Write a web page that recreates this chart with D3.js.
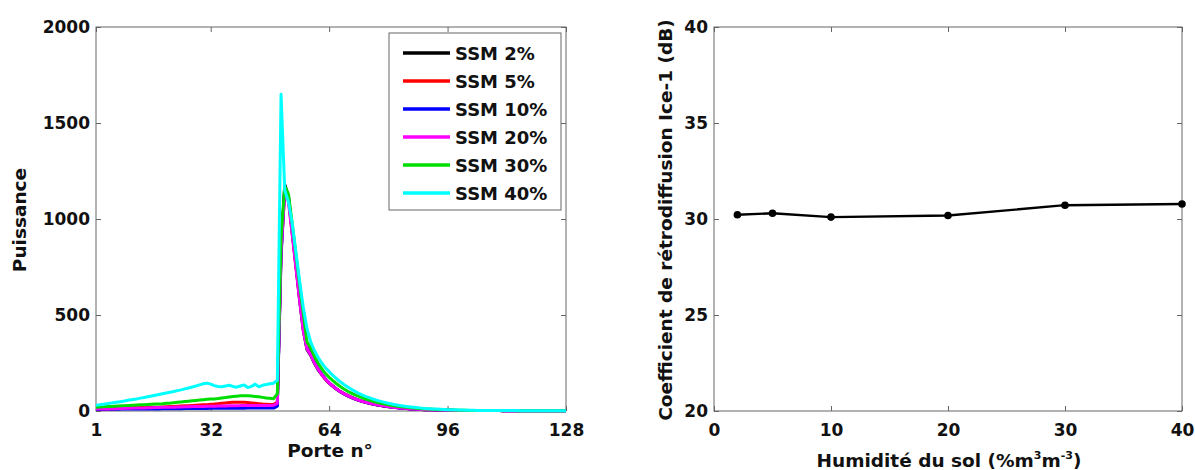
<!DOCTYPE html>
<html><head><meta charset="utf-8">
<script src="https://cdn.jsdelivr.net/npm/d3@7"></script>
<style>
body{margin:0;background:#fff;}
text{font-family:"DejaVu Sans",sans-serif;font-weight:bold;fill:#111;}
</style></head>
<body><svg id="c" width="1195" height="470"></svg>
<script>
// ---------- DATA ----------
const gates = d3.range(1, 129);
const seriesNames = ["SSM 2%","SSM 5%","SSM 10%","SSM 20%","SSM 30%","SSM 40%"];
const seriesColors = ["#000000","#ff0000","#0000ff","#ff00ff","#00dd00","#00ffff"];
const ssm2 = [10,11,11,12,12,12,13,13,13,14,14,14,15,15,15,15,
16,16,16,17,17,17,18,18,18,18,19,19,19,20,20,20,
20,21,21,21,22,22,22,22,22,22,22,21,21,21,21,21,
22,30,850,1180,1120,940,760,580,420,320,290,250,215,190,165,145,
128,113,100,89,79,70,62,55,49,44,39,35,31,28,25,22,
20,18,16,14,13,11,10,9,8,7,6,6,5,5,4,4,
4,3,3,3,3,2,2,2,2,2,2,2,2,2,1,1,
1,1,1,1,1,1,1,1,1,1,1,1,1,1,1,1];
const ssm5 = [12,12,13,13,14,14,15,15,16,16,17,17,18,18,19,19,
20,20,21,22,23,24,25,26,27,28,29,30,31,32,33,35,
36,38,40,42,44,45,46,46,45,44,42,40,38,36,35,34,
35,45,820,1150,1100,930,760,590,430,335,300,255,220,190,165,145,
130,115,102,91,81,72,64,57,51,46,41,36,32,29,26,23,
21,19,17,15,13,12,10,9,8,7,7,6,5,5,4,4,
4,3,3,3,3,2,2,2,2,2,2,2,2,2,1,1,
1,1,1,1,1,1,1,1,1,1,1,1,1,1,1,1];
const ssm10 = [8,8,8,9,9,9,9,10,10,10,10,10,11,11,11,11,
11,11,12,12,12,12,12,12,13,13,13,13,13,13,13,14,
14,14,14,14,14,14,14,14,14,15,15,15,15,15,15,15,
15,25,800,1160,1110,940,770,600,440,330,295,255,220,192,167,147,
130,115,101,90,80,71,63,56,50,45,40,36,32,29,26,23,
20,18,16,14,13,11,10,9,8,7,6,6,5,5,4,4,
4,3,3,3,3,2,2,2,2,2,2,2,2,2,1,1,
1,1,1,1,1,1,1,1,1,1,1,1,1,1,1,1];
const ssm20 = [10,10,11,11,12,12,13,13,14,14,15,15,16,16,17,17,
18,18,19,19,20,20,21,21,22,22,23,23,24,24,25,25,
25,26,26,26,27,27,27,28,28,28,28,28,29,29,29,29,
30,40,830,1140,1090,920,750,580,420,325,292,252,218,190,166,146,
129,114,101,90,80,71,63,56,50,45,40,36,32,29,26,23,
20,18,16,14,13,11,10,9,8,7,6,6,5,5,4,4,
4,3,3,3,3,2,2,2,2,2,2,2,2,2,1,1,
1,1,1,1,1,1,1,1,1,1,1,1,1,1,1,1];
const ssm30 = [20,21,22,23,24,25,26,27,28,29,30,31,32,33,34,35,
36,37,38,40,41,43,45,47,49,51,53,55,57,59,61,62,
63,65,68,70,73,75,77,79,80,80,78,76,74,71,68,66,
64,90,900,1170,1130,980,820,660,510,360,330,285,250,220,195,175,
158,142,128,115,103,93,84,76,68,61,55,49,44,40,36,32,
29,26,23,21,19,17,15,13,12,11,10,9,8,7,6,6,
5,5,4,4,4,3,3,3,3,2,2,2,2,2,2,2,
2,2,1,1,1,1,1,1,1,1,1,1,1,1,1,1];
const ssm40 = [30,32,35,38,41,44,47,50,53,57,60,63,67,70,74,78,
82,86,90,94,98,102,106,110,115,120,125,130,136,142,145,140,
132,128,126,130,134,128,124,130,136,122,128,140,126,134,138,142,
145,160,1650,1150,1090,980,830,680,540,430,360,315,280,250,225,205,
185,168,152,138,125,113,102,92,83,75,68,61,55,50,45,40,
36,32,29,26,23,21,19,17,15,13,12,11,10,9,8,7,
6,6,5,5,4,4,4,3,3,3,3,2,2,2,2,2,
2,2,2,1,1,1,1,1,1,1,1,1,1,1,1,1];
const seriesValues = [ssm2, ssm5, ssm10, ssm20, ssm30, ssm40];
const leftXTicks = [1, 32, 64, 96, 128];
const leftYTicks = [0, 500, 1000, 1500, 2000];

const humidity = [2, 5, 10, 20, 30, 40];
const backscatter = [30.22, 30.3, 30.1, 30.18, 30.72, 30.78];
const rightXTicks = [0, 10, 20, 30, 40];
const rightYTicks = [20, 25, 30, 35, 40];

// ---------- DRAW ----------
const svg = d3.select("#c");
const axisColor = "#666";
const fs = 17;
const lfs = 18.5;
const FONT = '"DejaVu Sans",sans-serif';

function frame(g, x, y, xt, yt) {
  const [x0, x1] = x.range(), [y1, y0] = y.range();
  g.append("rect").attr("x", x0).attr("y", y0).attr("width", x1 - x0).attr("height", y1 - y0)
    .attr("fill", "none").attr("stroke", axisColor).attr("stroke-width", 1);
  const ax = g.append("g").attr("transform", `translate(0,${y1})`)
    .call(d3.axisBottom(x).tickValues(xt).tickFormat(d3.format("d")).tickSizeInner(-5).tickSizeOuter(0).tickPadding(13));
  const axT = g.append("g").attr("transform", `translate(0,${y0})`)
    .call(d3.axisTop(x).tickValues(xt).tickSizeInner(-5).tickSizeOuter(0).tickFormat(""));
  const ay = g.append("g").attr("transform", `translate(${x0},0)`)
    .call(d3.axisLeft(y).tickValues(yt).tickFormat(d3.format("d")).tickSizeInner(-5).tickSizeOuter(0).tickPadding(6));
  const ayR = g.append("g").attr("transform", `translate(${x1},0)`)
    .call(d3.axisRight(y).tickValues(yt).tickSizeInner(-5).tickSizeOuter(0).tickFormat(""));
  [ax, axT, ay, ayR].forEach(a => {
    a.select(".domain").remove();
    a.selectAll("line").attr("stroke", axisColor);
    a.selectAll("text").attr("font-size", fs).attr("font-weight", "bold")
      .attr("font-family", FONT).attr("fill", "#111");
  });
}

// Left chart
const xL = d3.scaleLinear().domain([1, 128]).range([96, 566]);
const yL = d3.scaleLinear().domain([0, 2000]).range([411, 27]);
const gL = svg.append("g");
frame(gL, xL, yL, leftXTicks, leftYTicks);
const lineL = d3.line().x((d, i) => xL(gates[i])).y(d => yL(d));
seriesValues.forEach((vals, k) => {
  gL.append("path").datum(vals).attr("d", lineL).attr("fill", "none")
    .attr("stroke", seriesColors[k]).attr("stroke-width", 3).attr("stroke-linejoin", "round");
});
gL.append("text").attr("x", 330).attr("y", 457).attr("text-anchor", "middle").attr("font-size", lfs).text("Porte n°");
gL.append("text").attr("transform", "translate(26,220) rotate(-90)").attr("text-anchor", "middle").attr("font-size", lfs).text("Puissance");

// legend
const lg = gL.append("g");
lg.append("rect").attr("x", 389).attr("y", 33).attr("width", 172).attr("height", 177)
  .attr("fill", "#fff").attr("stroke", axisColor).attr("stroke-width", 1);
seriesNames.forEach((n, k) => {
  const yy = 53 + k * 28;
  lg.append("line").attr("x1", 403).attr("x2", 450).attr("y1", yy).attr("y2", yy)
    .attr("stroke", seriesColors[k]).attr("stroke-width", 3.5);
  lg.append("text").attr("x", 455).attr("y", yy + 6.5).attr("font-size", 18).text(n);
});

// Right chart
const xR = d3.scaleLinear().domain([0, 40]).range([714, 1182]);
const yR = d3.scaleLinear().domain([20, 40]).range([411, 27]);
const gR = svg.append("g");
frame(gR, xR, yR, rightXTicks, rightYTicks);
const lineR = d3.line().x((d, i) => xR(humidity[i])).y(d => yR(d));
gR.append("path").datum(backscatter).attr("d", lineR).attr("fill", "none")
  .attr("stroke", "#000").attr("stroke-width", 2.4);
gR.selectAll("circle.pt").data(backscatter).enter().append("circle")
  .attr("cx", (d, i) => xR(humidity[i])).attr("cy", d => yR(d)).attr("r", 3.8).attr("fill", "#000");
const xl = gR.append("text").attr("x", 949).attr("y", 467).attr("text-anchor", "middle").attr("font-size", lfs);
xl.append("tspan").text("Humidité du sol (%m");
xl.append("tspan").attr("font-size", 11).attr("dy", -8).text("3");
xl.append("tspan").attr("dy", 8).text("m");
xl.append("tspan").attr("font-size", 11).attr("dy", -8).text("-3");
xl.append("tspan").attr("dy", 8).text(")");
gR.append("text").attr("transform", "translate(672,220) rotate(-90)").attr("text-anchor", "middle").attr("font-size", lfs)
  .text("Coefficient de rétrodiffusion Ice-1 (dB)");
</script></body></html>
